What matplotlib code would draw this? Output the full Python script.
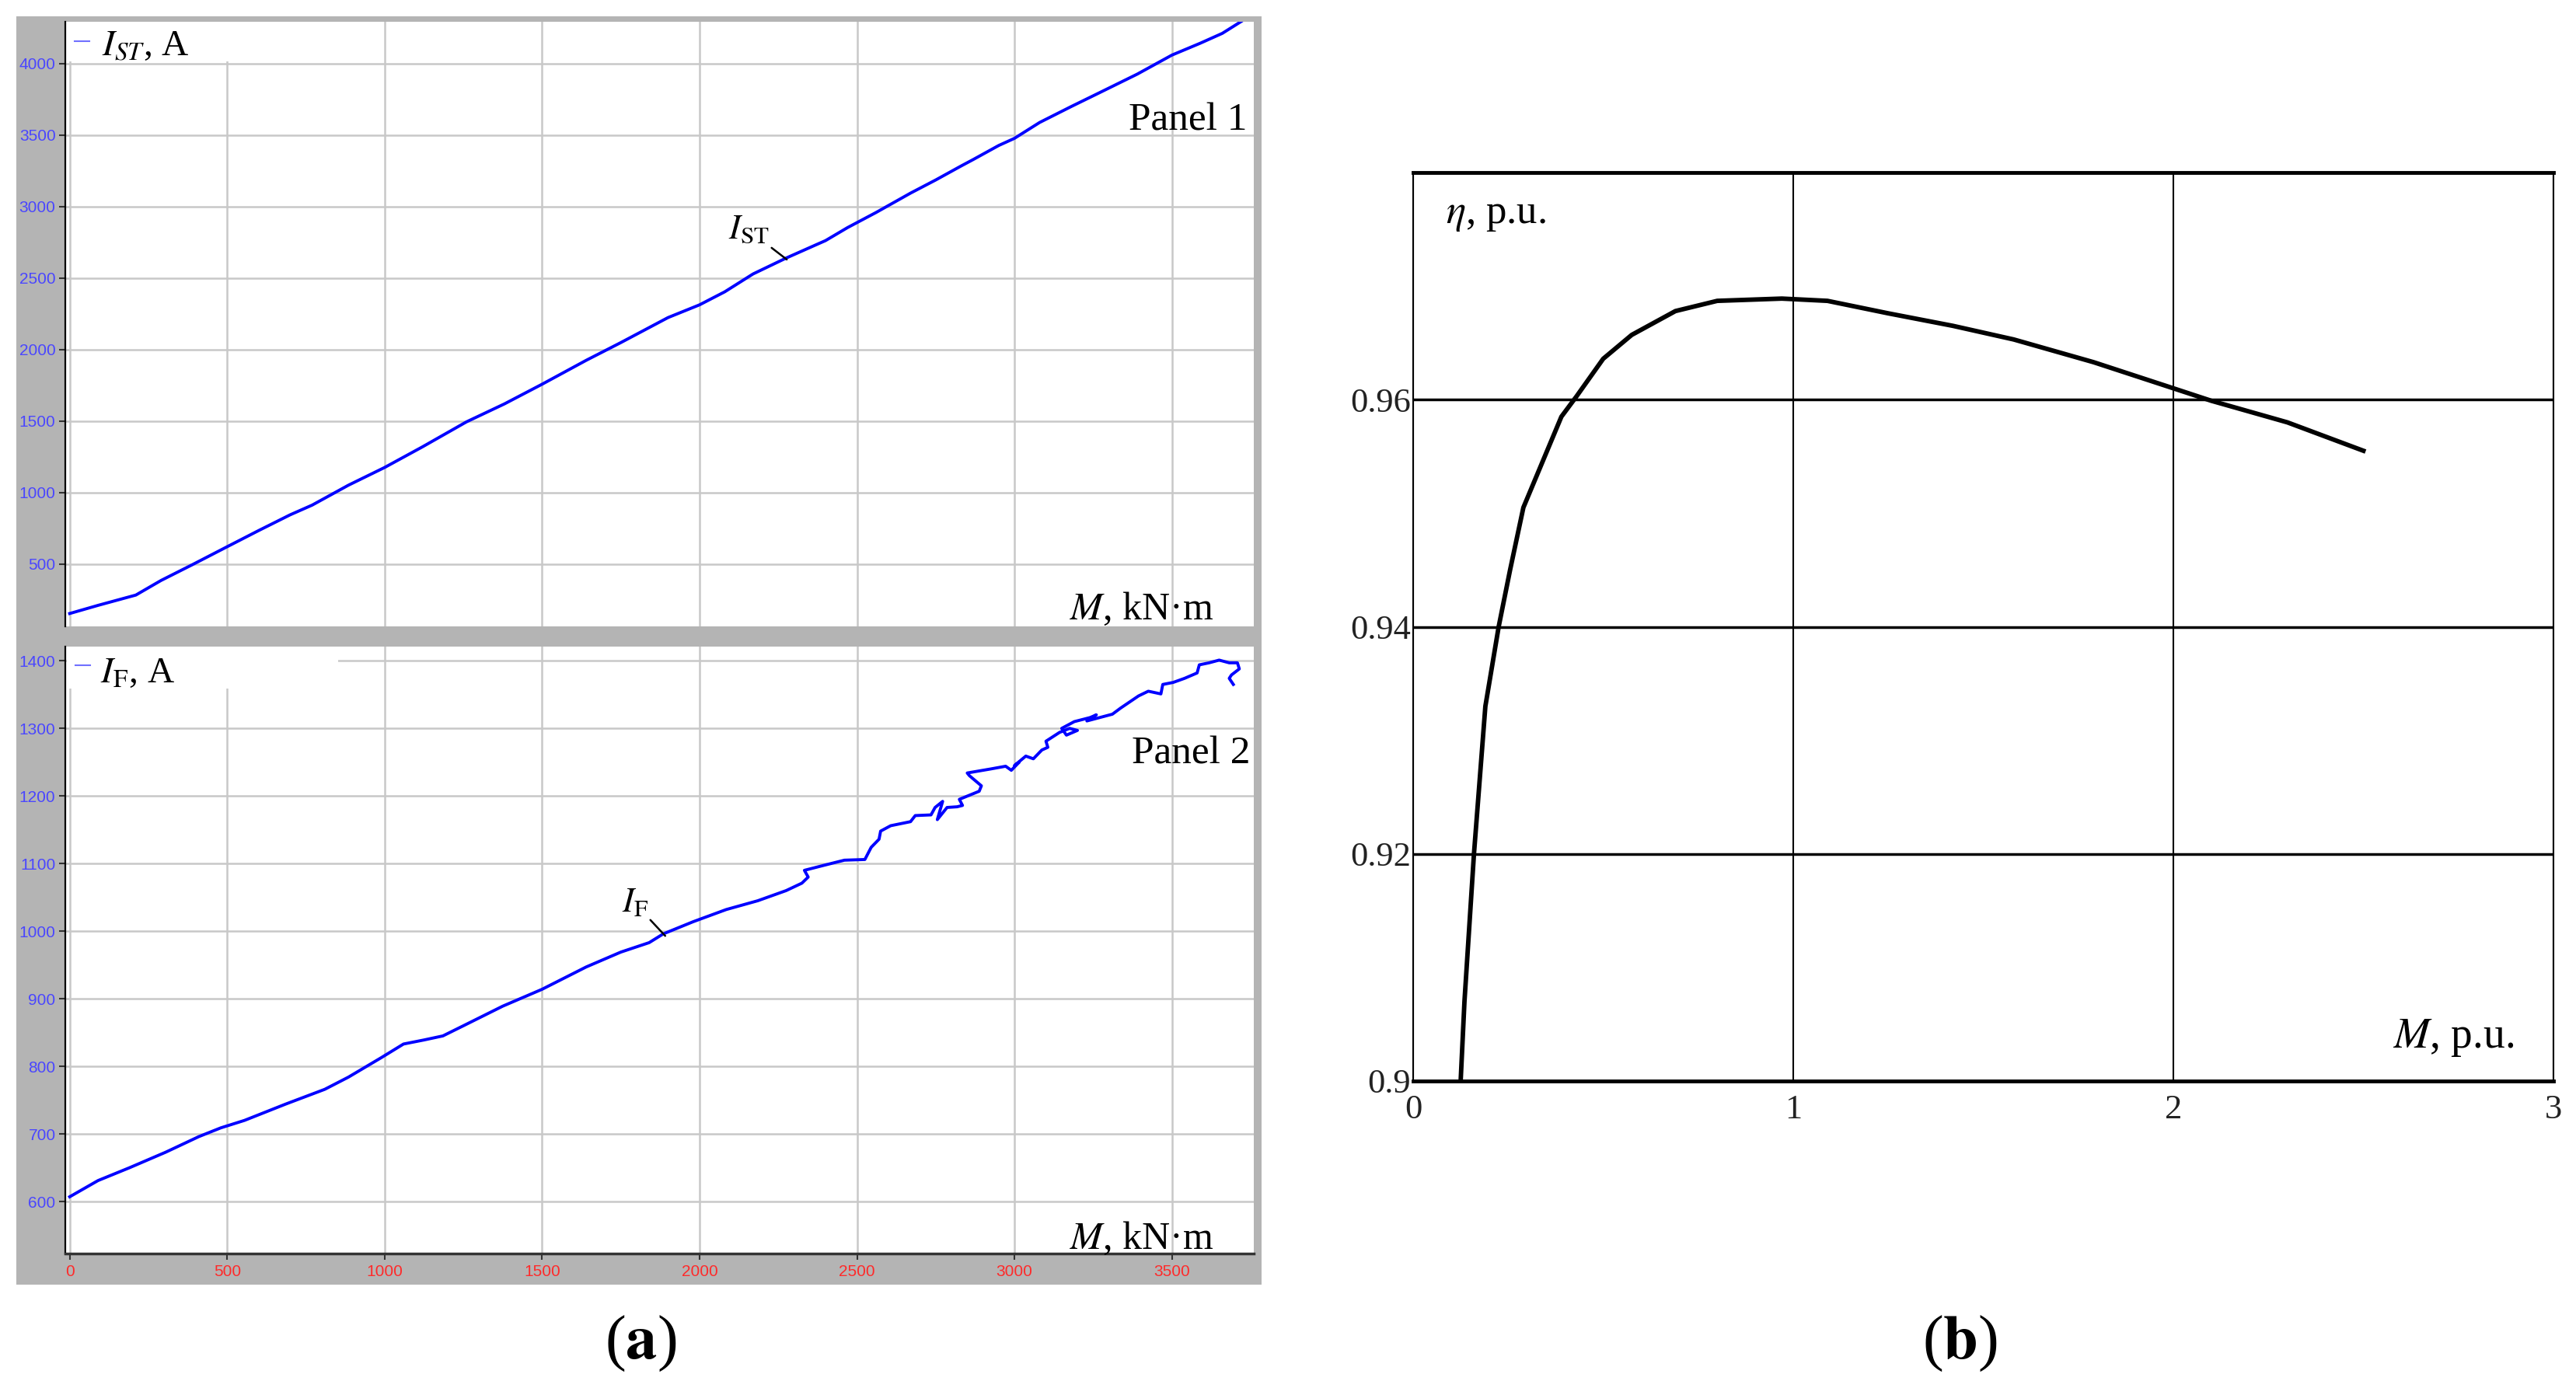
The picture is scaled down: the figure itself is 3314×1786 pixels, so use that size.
import matplotlib
matplotlib.use('Agg')
import matplotlib.pyplot as plt
from matplotlib.patches import Rectangle
from matplotlib.lines import Line2D

# --- panel (a), top: stator current vs torque
m_st = [0, 90, 210, 290, 390, 500, 600, 700, 770, 885,
        1000, 1120, 1260, 1380, 1500, 1640, 1750, 1900, 2000, 2080,
        2170, 2275, 2365, 2400, 2470, 2560, 2670, 2750, 2830, 2870,
        2950, 3000, 3080, 3180, 3270, 3390, 3500, 3590, 3660, 3720]
i_st = [155, 212, 284, 386, 497, 622, 735, 845, 913, 1052,
        1176, 1320, 1495, 1620, 1758, 1925, 2049, 2224, 2313, 2404,
        2529, 2640, 2728, 2762, 2853, 2958, 3094, 3186, 3283, 3330,
        3427, 3477, 3588, 3699, 3796, 3926, 4059, 4142, 4211, 4294]

# --- panel (a), bottom: field current vs torque
m_f = [0, 90, 190, 305, 410, 480, 555, 685, 810, 885,
       990, 1060, 1125, 1185, 1250, 1375, 1500, 1640, 1750, 1840,
       1885, 1980, 2085, 2185, 2275, 2325, 2345, 2333, 2400, 2460,
       2525, 2545, 2570, 2575, 2607, 2670, 2685, 2735, 2748, 2772,
       2755, 2786, 2818, 2835, 2825, 2888, 2895, 2857, 2850, 2925,
       2972, 2990, 3015, 3000, 3036, 3060, 3087, 3106, 3100, 3143,
       3175, 3200, 3165, 3150, 3190, 3240, 3260, 3230, 3311, 3337,
       3394, 3425, 3465, 3471, 3504, 3540, 3580, 3587, 3618, 3650,
       3682, 3708, 3714, 3689, 3682, 3695]
i_f = [607, 631, 650, 673, 696, 709, 720, 744, 766, 784,
       813, 833, 839, 845, 860, 889, 914, 947, 969, 983,
       996, 1014, 1032, 1045, 1060, 1071, 1080, 1090, 1098, 1105,
       1106, 1124, 1136, 1148, 1156, 1162, 1171, 1172, 1183, 1192,
       1165, 1183, 1184, 1186, 1195, 1207, 1215, 1230, 1234, 1240,
       1244, 1238, 1250, 1245, 1259, 1255, 1268, 1272, 1281, 1294,
       1300, 1297, 1290, 1300, 1310, 1316, 1320, 1311, 1321, 1330,
       1348, 1355, 1351, 1365, 1368, 1374, 1382, 1394, 1397, 1401,
       1397, 1397, 1388, 1379, 1374, 1365]

m_ticks = [0, 500, 1000, 1500, 2000, 2500, 3000, 3500]
ist_ticks = [500, 1000, 1500, 2000, 2500, 3000, 3500, 4000]
if_ticks = [600, 700, 800, 900, 1000, 1100, 1200, 1300, 1400]

# --- panel (b): efficiency vs torque (p.u.)
m_pu = [0.125, 0.135, 0.16, 0.19, 0.225, 0.255, 0.29, 0.34, 0.39, 0.43,
        0.50, 0.575, 0.69, 0.80, 0.97, 1.09, 1.25, 1.42, 1.58, 1.79,
        2.00, 2.10, 2.30, 2.50]
eta = [0.900, 0.907, 0.920, 0.933, 0.940, 0.945, 0.9505, 0.9545, 0.9585, 0.9603,
       0.9636, 0.9657, 0.9678, 0.9687, 0.9689, 0.9687, 0.9676, 0.9665, 0.9653, 0.9633,
       0.9610, 0.9599, 0.958, 0.9555]
mpu_ticks = [0, 1, 2, 3]
eta_ticks = [0.9, 0.92, 0.94, 0.96]
eta_labels = ['0.9', '0.92', '0.94', '0.96']

plt.rcParams['font.family'] = 'Liberation Serif'
plt.rcParams['mathtext.fontset'] = 'stix'

W, H = 3314, 1786


def box(x0, y0, x1, y1):
    return [x0 / W, 1 - y1 / H, (x1 - x0) / W, (y1 - y0) / H]


def fx(x):
    return x / W


def fy(y):
    return 1 - y / H


fig = plt.figure(figsize=(W / 100, H / 100), dpi=100)

# grey frame of the recorder window (an empty axes under the two plots)
frame = fig.add_axes(box(21, 21, 1623, 1653), zorder=-5)
frame.set_facecolor('#b4b4b4')
frame.set_xticks([])
frame.set_yticks([])
for s in frame.spines.values():
    s.set_visible(False)

ax1 = fig.add_axes(box(84, 28, 1613, 806))
ax2 = fig.add_axes(box(84, 832, 1613, 1613))

for ax in (ax1, ax2):
    ax.set_facecolor('white')
    ax.set_axisbelow(True)
    ax.set_xlim(-14, 3760)
    ax.set_xticks(m_ticks)
    ax.grid(True, color='#c8c8c8', lw=1.8)
    for s in ('top', 'right', 'bottom'):
        ax.spines[s].set_visible(False)
    ax.spines['left'].set_color('black')
    ax.spines['left'].set_linewidth(1.6)
    ax.tick_params(axis='y', direction='out', length=6, width=1.5, color='#333333',
                   labelcolor='#4a46ff', labelsize=15, pad=3)

ax1.set_ylim(65, 4292)
ax1.set_yticks(ist_ticks)
ax1.tick_params(axis='x', length=0, labelbottom=False)
for lab in ax1.get_yticklabels():
    lab.set_family('Liberation Sans')
ax1.plot(m_st, i_st, color='#0000ff', lw=2.8, zorder=3)

ax2.set_ylim(523, 1421)
ax2.set_yticks(if_ticks)
ax2.spines['bottom'].set_visible(True)
ax2.spines['bottom'].set_color('#333333')
ax2.spines['bottom'].set_linewidth(2.5)
ax2.tick_params(axis='x', direction='out', length=6, width=1.5, color='#333333',
                labelcolor='#ff2a2a', labelsize=15, pad=4)
for lab in ax2.get_xticklabels() + ax2.get_yticklabels():
    lab.set_family('Liberation Sans')
ax2.plot(m_f, i_f, color='#0000ff', lw=2.8, zorder=3)

# white label boxes that hide the grid behind the legends
ax1.add_patch(Rectangle((fx(86), fy(79)), (300 - 86) / W, (79 - 28) / H,
                        transform=fig.transFigure, facecolor='white', edgecolor='none', zorder=1))
ax2.add_patch(Rectangle((fx(86), fy(886)), (435 - 86) / W, (886 - 832) / H,
                        transform=fig.transFigure, facecolor='white', edgecolor='none', zorder=1))
fig.add_artist(Line2D([fx(96), fx(115)], [fy(53), fy(53)], color='#7070ff', lw=1.5))
fig.add_artist(Line2D([fx(97), fx(116)], [fy(856), fy(856)], color='#7070ff', lw=1.5))

fig.text(fx(131), fy(71), r'$I_{ST}$, A', fontsize=34, va='baseline')
fig.text(fx(129), fy(878), r'$I_{\mathrm{F}}$, A', fontsize=34, va='baseline')
fig.text(fx(1605), fy(168), 'Panel 1', fontsize=37, ha='right', va='baseline')
fig.text(fx(1608), fy(983), 'Panel 2', fontsize=37, ha='right', va='baseline')
fig.text(fx(1561), fy(797), r'$M$, kN·m', fontsize=36, ha='right', va='baseline')
fig.text(fx(1561), fy(1607), r'$M$, kN·m', fontsize=36, ha='right', va='baseline')

ax1.annotate(r'$I_{\mathrm{ST}}$', xy=(2277, 2630), xytext=(2222, 2725),
             fontsize=32, ha='right', va='bottom',
             arrowprops=dict(arrowstyle='-', color='black', lw=1.8, shrinkA=0, shrinkB=0))
ax2.annotate(r'$I_{\mathrm{F}}$', xy=(1891, 993), xytext=(1837, 1018),
             fontsize=32, ha='right', va='bottom',
             arrowprops=dict(arrowstyle='-', color='black', lw=1.8, shrinkA=0, shrinkB=0))

# --- panel (b)
ax3 = fig.add_axes(box(1818, 222, 3285, 1391))
ax3.plot(m_pu, eta, color='black', lw=4.2, zorder=3)
ax3.set_xlim(0, 3)
ax3.set_ylim(0.9, 0.98)
ax3.set_xticks(mpu_ticks)
ax3.set_xticklabels([str(t) for t in mpu_ticks])
ax3.set_yticks(eta_ticks)
ax3.set_yticklabels(eta_labels)
ax3.tick_params(length=0, labelsize=32, colors='#222222')
ax3.tick_params(axis='x', pad=12)
ax3.tick_params(axis='y', pad=2)
ax3.grid(True, axis='y', color='black', lw=2.5)
ax3.grid(True, axis='x', color='black', lw=1.5)
ax3.spines['top'].set_linewidth(3.5)
ax3.spines['bottom'].set_linewidth(3.5)
ax3.spines['left'].set_linewidth(1.5)
ax3.spines['right'].set_linewidth(1.5)

fig.text(fx(1860), fy(287), r'$\eta$, p.u.', fontsize=38, va='baseline')
fig.text(fx(3234), fy(1348), r'$M$, p.u.', fontsize=40, ha='right', va='baseline')

fig.text(fx(824), fy(1729), r'($\mathbf{a}$)', fontsize=58, ha='center', va='center')
fig.text(fx(2521), fy(1729), r'($\mathbf{b}$)', fontsize=58, ha='center', va='center')

fig.savefig('out.png', dpi=100, facecolor='white')
